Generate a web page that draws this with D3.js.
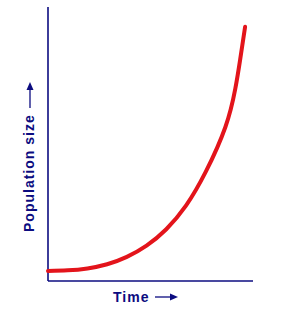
<!DOCTYPE html>
<html>
<head>
<meta charset="UTF-8">
<script src="https://cdnjs.cloudflare.com/ajax/libs/d3/7.8.5/d3.min.js"></script>
<style>
  body { margin: 0; background: #fff; }
</style>
</head>
<body>
<script>
// time steps and population size (arbitrary units)
var times = [0, 1, 2, 3, 4, 5, 6, 7, 8, 9, 9.5, 9.75, 10];
var population = [3.65, 3.9, 4.6, 6.1, 8.8, 12.9, 18.9, 27.5, 39.8, 56.2, 70.1, 80.9, 92.8];
var xLabel = "Time";
var yLabel = "Population size";

var width = 288, height = 311;
var navy = "#0c0c80";

var svg = d3.select("body").append("svg")
    .attr("width", width)
    .attr("height", height);

var x = d3.scaleLinear().domain([0, 10.4]).range([48, 253]);
var y = d3.scaleLinear().domain([0, 100]).range([281, 7]);

// axes: plain lines, no ticks
svg.append("line")
    .attr("x1", x(0)).attr("x2", x(0))
    .attr("y1", y(100)).attr("y2", y(0))
    .attr("stroke", navy).attr("stroke-width", 1.6);
svg.append("line")
    .attr("x1", x(0)).attr("x2", x(10.4))
    .attr("y1", y(0)).attr("y2", y(0))
    .attr("stroke", navy).attr("stroke-width", 1.6);

var pts = times.map(function(t, i) { return [t, population[i]]; });
var line = d3.line()
    .x(function(d) { return x(d[0]); })
    .y(function(d) { return y(d[1]); })
    .curve(d3.curveNatural);

svg.append("path")
    .datum(pts)
    .attr("d", line)
    .attr("fill", "none")
    .attr("stroke", "#e3141b")
    .attr("stroke-width", 4)
    .attr("stroke-linecap", "round");

// x label with arrow
svg.append("text")
    .attr("x", 113).attr("y", 302)
    .attr("fill", navy)
    .attr("font-family", "Liberation Sans, Arial, sans-serif")
    .attr("font-size", 14)
    .attr("font-weight", "bold")
    .attr("letter-spacing", 1)
    .text(xLabel);
svg.append("line")
    .attr("x1", 155).attr("x2", 172)
    .attr("y1", 297).attr("y2", 297)
    .attr("stroke", navy).attr("stroke-width", 1.3);
svg.append("path")
    .attr("d", "M178,297 L170,293.5 L170,300.5 Z")
    .attr("fill", navy);

// y label, rotated, with arrow
svg.append("text")
    .attr("transform", "translate(34,232) rotate(-90)")
    .attr("fill", navy)
    .attr("font-family", "Liberation Sans, Arial, sans-serif")
    .attr("font-size", 14)
    .attr("font-weight", "bold")
    .attr("letter-spacing", 1)
    .text(yLabel);
svg.append("line")
    .attr("x1", 30).attr("x2", 30)
    .attr("y1", 108).attr("y2", 89)
    .attr("stroke", navy).attr("stroke-width", 1.3);
svg.append("path")
    .attr("d", "M30,82 L26.5,90 L33.5,90 Z")
    .attr("fill", navy);
</script>
</body>
</html>
